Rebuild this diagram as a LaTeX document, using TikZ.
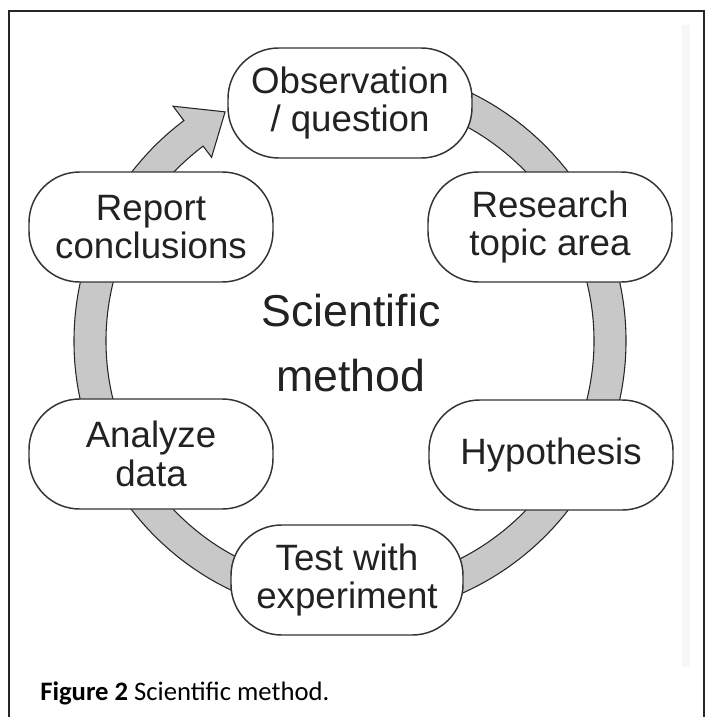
\documentclass[tikz,border=0pt]{standalone}
\usepackage{fontspec}
\setmainfont{Liberation Sans}
\newfontfamily\capfont{Carlito}
\definecolor{ringgray}{HTML}{C8C8C8}
\definecolor{edgegray}{HTML}{333333}
\definecolor{textgray}{HTML}{222222}
\tikzset{
  pill/.style={draw=edgegray, line width=1.1pt, fill=white, rounded corners=38pt,
    minimum width=183pt, minimum height=82.5pt, inner sep=0pt, align=center,
    text=textgray, font=\fontsize{27.5}{29}\selectfont},
  ringstyle/.style={fill=ringgray, draw=black!85, line width=0.8pt, line join=miter},
  frameline/.style={draw=black!85, line width=1.2pt}
}
\begin{document}
\begin{tikzpicture}[x=0.75pt, y=-0.75pt]
\useasboundingbox (0,0) rectangle (706,717);
% frame
\draw[frameline] (9,720) -- (9,11) -- (704,11) -- (704,720);
% faint panel edge
\fill[black!3] (682,25) rectangle (690,667);
% ring with arrow head
\begin{scope}[shift={(350,341)}]
\path[ringstyle] (-85:276) arc[start angle=-85, end angle=233, radius=276]
  -- (233:294) -- (241.4:261) -- (233:230) -- (233:244)
  arc[start angle=233, end angle=-85, radius=244] -- cycle;
\end{scope}
% nodes
\node[pill] (obs) at (350,103) {Observation\\/ question};
\node[pill] (res) at (550,227) {Research\\topic area};
\node[pill] (hyp) at (551,455) {Hypothesis};
\node[pill, minimum width=174pt] (test) at (347,580) {Test with\\experiment};
\node[pill] (ana) at (151,454) {Analyze\\data};
\node[pill] (rep) at (151,227) {Report\\conclusions};
\node[align=center, text=textgray, font=\fontsize{33.5}{48.75}\selectfont] (title) at (351,343) {Scientific\\method};
% caption
\node[anchor=base west, inner sep=0pt, font=\capfont\fontsize{20}{24}\selectfont] (cap) at (40,700) {\textbf{Figure 2} Scientific method.};
\end{tikzpicture}
\end{document}
